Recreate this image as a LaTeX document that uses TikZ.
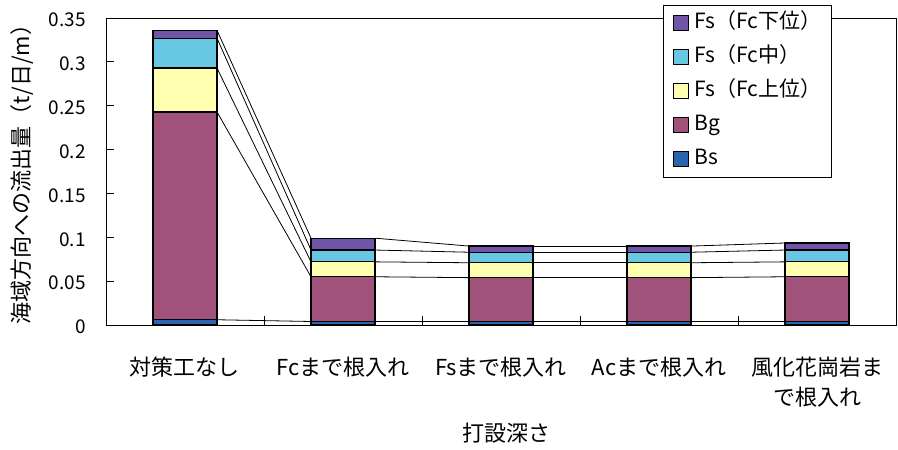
\documentclass[tikz,border=0pt]{standalone}
\usepackage{fontspec}
\setmainfont{Noto Sans CJK JP}
\usetikzlibrary{positioning}
\usetikzlibrary{calc}
\definecolor{fslowcol}{RGB}{112,84,168}
\definecolor{fsmidcol}{RGB}{104,200,228}
\definecolor{fsupcol}{RGB}{255,255,175}
\definecolor{bgcol}{RGB}{160,82,122}
\definecolor{bscol}{RGB}{42,102,176}

\begin{document}
\begin{tikzpicture}[x=1pt,y=877pt]
\tikzstyle{segment} = [rectangle, draw=black, line width=1.2pt, minimum width=64pt,
inner sep=0pt, outer sep=0pt]
\tikzstyle{serie} = [draw, line width=0.8pt]
\tikzstyle{frame} = [draw, line width=0.9pt]
\tikzstyle{ticklabel} = [anchor=east, inner sep=0pt, font=\fontsize{19pt}{22pt}\selectfont]
\tikzstyle{catlabel} = [anchor=north, inner sep=0pt, align=center, font=\fontsize{22pt}{30pt}\selectfont]
\tikzstyle{key} = [rectangle, anchor=center, draw=black, line width=1pt, minimum size=15pt, inner sep=0pt]
\tikzstyle{keytext} = [anchor=west, inner sep=0pt, text height=16pt, text depth=5pt,
font=\fontsize{21pt}{24pt}\selectfont]
\useasboundingbox (-106pt,-125pt) rectangle (792pt,325pt);
% frame and ticks
\draw[frame] (0,0) rectangle (790,0.35);
\foreach \v [count=\k] in {0,0.05,0.1,0.15,0.2,0.25,0.3,0.35} {
  \draw[frame] (0,\v) -- ++(8pt,0pt);
  \node[ticklabel] (ylab\k) at (-20,\v) [yshift=-2pt] {\v};
}
\foreach \t in {158,316,474,632}
  \draw[frame] (\t,0) -- ++(0pt,9pt);
% stacked bars
\foreach \n/\cx/\ta/\tb/\tc/\td/\te in {1/79/0.006/0.243/0.293/0.327/0.336,
2/237/0.004/0.055/0.072/0.0855/0.099, 3/395/0.004/0.054/0.071/0.083/0.090,
4/553/0.004/0.054/0.071/0.083/0.090, 5/711/0.004/0.055/0.072/0.0855/0.0935}
{
  \pgfmathsetmacro{\hbs}{\ta*877}
  \pgfmathsetmacro{\hbg}{(\tb-\ta)*877}
  \pgfmathsetmacro{\hup}{(\tc-\tb)*877}
  \pgfmathsetmacro{\hmid}{(\td-\tc)*877}
  \pgfmathsetmacro{\hlow}{(\te-\td)*877}
  \node[segment, fill=bscol, minimum height=\hbs pt] (bs\n) at (\cx,\ta/2) {};
  \node[segment, fill=bgcol, minimum height=\hbg pt] (bg\n) at (\cx,\ta/2+\tb/2) {};
  \node[segment, fill=fsupcol, minimum height=\hup pt] (fsup\n) at (\cx,\tb/2+\tc/2) {};
  \node[segment, fill=fsmidcol, minimum height=\hmid pt] (fsmid\n) at (\cx,\tc/2+\td/2) {};
  \node[segment, fill=fslowcol, minimum height=\hlow pt] (fslow\n) at (\cx,\td/2+\te/2) {};
}
% series lines
\foreach \n/\m in {1/2,2/3,3/4,4/5}
  \foreach \s in {bs,bg,fsup,fsmid,fslow}
    \draw[serie] (\s\n.north east) -- (\s\m.north west);
% axis labels
\node[catlabel, below=32pt of bs1] (cat1) {対策工なし};
\node[catlabel, below=32pt of bs2] (cat2) {Fcまで根入れ};
\node[catlabel, below=32pt of bs3] (cat3) {Fsまで根入れ};
\node[catlabel, below=32pt of bs4] (cat4) {Acまで根入れ};
\node[catlabel, below=32pt of bs5] (cat5) {風化花崗岩ま\\で根入れ};
\node[font=\fontsize{22pt}{26pt}\selectfont] (xtitle) at (400pt,-108pt) {打設深さ};
\node[rotate=90, font=\fontsize{22pt}{26pt}\selectfont] (ytitle) at (-84pt,156pt)
{海域方向への流出量（t/日/m）};
% legend
\matrix (legend) [draw=black, line width=0.9pt, fill=white, matrix anchor=north west,
column sep=5pt, row sep=13pt, inner xsep=10pt, inner ysep=7.5pt] at (557pt,320pt)
{
\node[key, fill=fslowcol] (klow) {}; & \node[keytext] (tlow) {Fs（Fc下位）}; \\
\node[key, fill=fsmidcol] (kmid) {}; & \node[keytext] (tmid) {Fs（Fc中）}; \\
\node[key, fill=fsupcol] (kup) {}; & \node[keytext] (tup) {Fs（Fc上位）}; \\
\node[key, fill=bgcol] (kbg) {}; & \node[keytext] (tbg) {Bg}; \\
\node[key, fill=bscol] (kbs) {}; & \node[keytext] (tbs) {Bs}; \\
};
\end{tikzpicture}
\end{document}
